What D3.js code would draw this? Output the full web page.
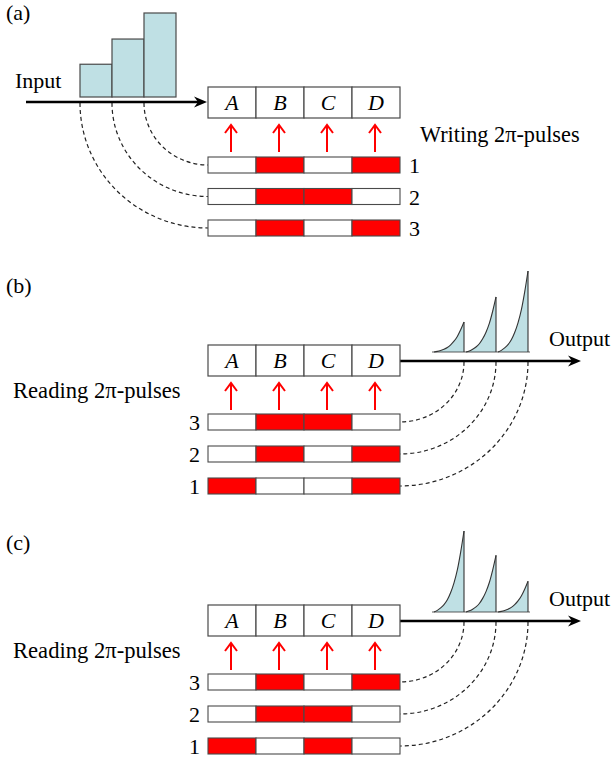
<!DOCTYPE html>
<html>
<head>
<meta charset="utf-8">
<script src="https://cdn.jsdelivr.net/npm/d3@7"></script>
<style>
  body { margin: 0; background: #fff; }
</style>
</head>
<body>
<div id="chart"></div>
<script>
// memory cells and pulse patterns (1 = red 2π-pulse in that cell)
const cells = ["A", "B", "C", "D"];
const writingRows = ["1", "2", "3"];
const writingPulses = [[0, 1, 0, 1], [0, 1, 1, 0], [0, 1, 0, 1]];
const readingRows = ["3", "2", "1"];
const readingPulsesB = [[0, 1, 1, 0], [0, 1, 0, 1], [1, 0, 0, 1]];
const readingPulsesC = [[0, 1, 0, 1], [0, 1, 1, 0], [1, 0, 1, 0]];

// relative amplitudes of input / output pulses
const inputAmps = [0.39, 0.69, 1.0];
const outputAmpsB = [0.37, 0.68, 1.0];
const outputAmpsC = [1.0, 0.70, 0.38];
// echo shape (rise from tail to peak)
const echoProfile = [0, 0.02, 0.05, 0.09, 0.15, 0.24, 0.36, 0.52, 0.74, 1];

const width = 613, height = 762;
const FONT = '"Liberation Serif", "Times New Roman", serif';
const svg = d3.select("#chart").append("svg")
  .attr("width", width).attr("height", height)
  .style("font-family", FONT);

const RED = "#ff0000", BLUE = "#bfe0e4", EDGE = "#4a4a4a";
const x = d3.scaleBand().domain(cells).range([208, 400]);
const cellH = 31, rowH = 16;

function blackArrow(g, x0, x1, y) {
  g.append("line").attr("x1", x0).attr("x2", x1 - 6).attr("y1", y).attr("y2", y)
    .attr("stroke", "#000").attr("stroke-width", 2.4);
  g.append("path")
    .attr("d", `M${x1},${y} L${x1 - 13},${y - 5.5} L${x1 - 9},${y} L${x1 - 13},${y + 5.5} Z`)
    .attr("fill", "#000");
}

function memory(g, top) {
  g.selectAll("rect.cell").data(cells).enter().append("rect")
    .attr("x", d => x(d)).attr("y", top)
    .attr("width", x.bandwidth()).attr("height", cellH)
    .attr("fill", "#fff").attr("stroke", EDGE).attr("stroke-width", 1.2);
  g.selectAll("text.cell").data(cells).enter().append("text")
    .attr("x", d => x(d) + x.bandwidth() / 2).attr("y", top + 23)
    .attr("text-anchor", "middle")
    .style("font-family", FONT).style("font-size", "22px").style("font-style", "italic")
    .text(d => d);
  // red arrows
  const tip = top + cellH + 7, tail = tip + 27;
  cells.forEach(c => {
    const cx = x(c) + x.bandwidth() / 2 - 1;
    g.append("line").attr("x1", cx).attr("x2", cx).attr("y1", tail).attr("y2", tip + 1)
      .attr("stroke", RED).attr("stroke-width", 2);
    g.append("path").attr("d", `M${cx - 6},${tip + 8} L${cx},${tip} L${cx + 6},${tip + 8}`)
      .attr("fill", "none").attr("stroke", RED).attr("stroke-width", 2);
  });
}

function pulseRows(g, pattern, labels, y, labelSide) {
  pattern.forEach((row, i) => {
    const top = y(i);
    g.selectAll(null).data(row).enter().append("rect")
      .attr("x", (d, j) => x(cells[j])).attr("y", top)
      .attr("width", x.bandwidth()).attr("height", rowH)
      .attr("fill", d => d ? RED : "#fff")
      .attr("stroke", EDGE).attr("stroke-width", 1.1);
    g.append("text")
      .attr("x", labelSide === "right" ? 409 : 200)
      .attr("y", top + rowH)
      .attr("text-anchor", labelSide === "right" ? "start" : "end")
      .style("font-family", FONT).style("font-size", "22px")
      .text(labels[i]);
  });
}

function dashed(g, d) {
  g.append("path").attr("d", d).attr("fill", "none")
    .attr("stroke", "#222").attr("stroke-width", 1.2).attr("stroke-dasharray", "4,3");
}

function label(g, t, x0, y0, size) {
  g.append("text").attr("x", x0).attr("y", y0)
    .style("font-family", FONT).style("font-size", (size || 22) + "px")
    .text(t);
}

// ---------- (a) writing ----------
const ga = svg.append("g");
label(ga, "(a)", 6, 20);
label(ga, "Input", 15, 88);
const inX = d3.scaleBand().domain(d3.range(inputAmps.length)).range([80, 176]);
const inH = d3.scaleLinear().domain([0, 1]).range([0, 84]);
const inBase = 97, arrowA = 102;
ga.selectAll("rect.in").data(inputAmps).enter().append("rect")
  .attr("x", (d, i) => inX(i)).attr("y", d => inBase - inH(d))
  .attr("width", inX.bandwidth()).attr("height", d => inH(d))
  .attr("fill", BLUE).attr("stroke", EDGE).attr("stroke-width", 1.2);
const rowA = d3.scaleLinear().domain([0, 2]).range([157, 220]);
inputAmps.forEach((d, i) => {
  const x0 = inX(i), y1 = rowA(2 - i) + rowH / 2;
  dashed(ga, `M${x0},${arrowA + 1} A${208 - x0},${y1 - arrowA - 1} 0 0 0 208,${y1}`);
});
blackArrow(ga, 26, 207, arrowA);
memory(ga, 87);
pulseRows(ga, writingPulses, writingRows, rowA, "right");
label(ga, "Writing 2\u03c0-pulses", 420, 142, 22.3);

// ---------- (b), (c) reading ----------
function readingPanel(tag, off, pattern, amps) {
  const g = svg.append("g");
  label(g, tag, 6, off.tag);
  label(g, "Reading 2\u03c0-pulses", 13, off.cell + 53, 22.6);
  label(g, "Output", 549, off.cell + 1);
  const base = off.cell + 7, arrowY = off.cell + 16;
  const px = d3.scaleBand().domain(d3.range(amps.length)).range([434, 530]);
  const ph = d3.scaleLinear().domain([0, 1]).range([0, 81]);
  const tx = d3.scaleLinear().domain([0, echoProfile.length - 1]).range([0, px.bandwidth() - 2]);
  const area = d3.area().curve(d3.curveMonotoneX)
    .x(d => d[0]).y0(base).y1(d => d[1]);
  amps.forEach((a, i) => {
    const x0 = px(i);
    const pts = echoProfile.map((v, k) => [x0 + tx(k), base - ph(a) * v]);
    g.append("path").datum(pts).attr("d", area)
      .attr("fill", BLUE).attr("stroke", "none");
    g.append("path").datum(pts).attr("d", d3.line().curve(d3.curveMonotoneX))
      .attr("fill", "none").attr("stroke", "#333").attr("stroke-width", 1.1);
    const xp = x0 + px.bandwidth() - 2;
    g.append("line").attr("x1", xp).attr("x2", xp).attr("y1", base - ph(a)).attr("y2", base)
      .attr("stroke", "#333").attr("stroke-width", 1.1);
  });
  g.append("line").attr("x1", 432).attr("x2", 530).attr("y1", base).attr("y2", base)
    .attr("stroke", "#333").attr("stroke-width", 0.8);
  const rowY = d3.scaleLinear().domain([0, 2]).range([off.cell + 69, off.cell + 133]);
  amps.forEach((a, i) => {
    const x0 = px(i) + px.bandwidth() - 2, y1 = rowY(i) + rowH / 2;
    dashed(g, `M${x0},${arrowY + 1} A${x0 - 400},${y1 - arrowY - 1} 0 0 1 400,${y1}`);
  });
  blackArrow(g, 400, 581, arrowY);
  memory(g, off.cell);
  pulseRows(g, pattern, readingRows, rowY, "left");
}

readingPanel("(b)", { tag: 293, cell: 345 }, readingPulsesB, outputAmpsB);
readingPanel("(c)", { tag: 550, cell: 605 }, readingPulsesC, outputAmpsC);
</script>
</body>
</html>
